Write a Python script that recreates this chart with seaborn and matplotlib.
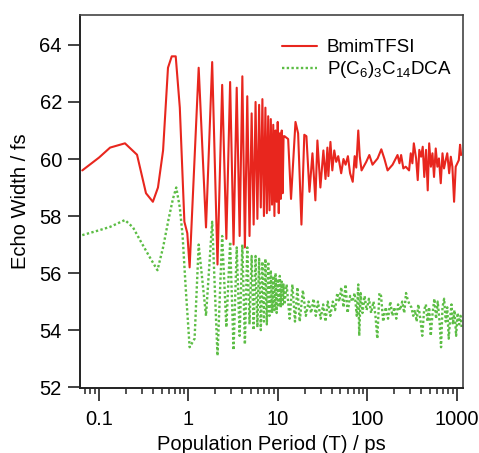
import matplotlib
matplotlib.use("Agg")
import matplotlib.pyplot as plt
import seaborn as sns
import pandas as pd

# ---------------- data ----------------
# BmimTFSI (red)
red_time_early = [0.065, 0.10, 0.133, 0.195, 0.266, 0.335, 0.40, 0.456, 0.52, 0.59,
                  0.65, 0.72, 0.80, 0.90, 0.97, 1.03]
red_width_early = [59.6, 60.05, 60.4, 60.55, 60.15, 58.8, 58.5, 59.0, 60.3, 63.2,
                   63.6, 63.6, 61.8, 57.8, 57.4, 56.2]

mid_time = [1.30, 1.57, 1.84, 2.11, 2.38, 2.65, 2.92, 3.19, 3.46, 3.73,
            4.00, 4.27, 4.54, 4.81, 5.08, 5.35, 5.62, 5.89, 6.16, 6.43,
            6.70, 6.97, 7.24, 7.51, 7.78, 8.05, 8.32, 8.59, 8.86, 9.13,
            9.40, 9.67, 9.94, 10.21, 10.48, 10.75, 11.02, 11.29, 11.56, 11.83]
red_width_mid = [63.2, 57.6, 63.4, 56.3, 62.6, 57.2, 62.7, 57.0, 62.5, 57.3,
                 62.9, 56.9, 62.2, 57.3, 61.6, 57.7, 62.0, 57.9, 61.9, 58.3,
                 62.1, 58.0, 61.8, 58.1, 61.5, 58.2, 61.4, 58.4, 61.2, 58.0,
                 61.0, 58.5, 61.3, 58.1, 60.9, 58.6, 61.0, 58.8, 60.8, 60.8]

red_time_late = [13.0, 14.0, 15.7, 16.8, 18.3, 19.7, 20.8, 22.5, 24.3, 26.2,
                 27.6, 29.8, 32.2, 34.0, 35.7, 36.6, 38.6, 40.5, 42.6, 44.8,
                 47.2, 50.9, 54.0, 57.0, 60.5, 64.0, 68.5, 72.0, 75.0, 79.0,
                 82.0, 86.0, 97.0, 105.0, 114.0, 130.0, 143.0, 155.0, 168.0, 191.0,
                 217.0, 228.0, 238.0, 252.0, 268.0, 292.0, 305.0, 318.0, 330.0, 350.0,
                 365.0, 380.0, 398.0, 415.0, 432.0, 452.0, 472.0, 490.0, 512.0, 533.0,
                 555.0, 580.0, 605.0, 630.0, 660.0, 690.0, 718.0, 750.0, 780.0, 820.0,
                 855.0, 890.0, 930.0, 970.0, 1050.0, 1085.0, 1115.0]
red_width_late = [60.7, 58.6, 61.3, 60.9, 57.7, 60.85, 60.8, 58.85, 60.2, 58.55,
                  60.65, 59.0, 60.3, 59.3, 60.4, 59.4, 60.6, 59.6, 60.3, 59.9,
                  60.1, 59.5, 60.0, 59.8, 60.1, 59.5, 59.2, 60.1, 59.7, 61.0,
                  60.1, 59.6, 59.9, 60.14, 59.8, 60.02, 60.34, 60.0, 59.6, 59.8,
                  60.14, 59.85, 60.14, 59.67, 59.73, 59.6, 60.2, 59.85, 60.55, 60.02,
                  59.26, 60.32, 60.08, 60.43, 59.37, 60.32, 58.9, 60.55, 59.73, 60.2,
                  59.37, 60.37, 59.73, 60.02, 59.15, 60.2, 59.67, 59.96, 60.2, 59.5,
                  60.08, 59.73, 58.5, 59.73, 59.96, 60.5, 60.14]

# P(C6)3C14DCA (green)
green_time_early = [0.065, 0.10, 0.133, 0.195, 0.24, 0.30, 0.37, 0.45, 0.52, 0.60,
                    0.67, 0.73, 0.80, 0.86, 0.93, 1.03, 1.17]
green_width_early = [57.33, 57.5, 57.62, 57.86, 57.6, 57.05, 56.55, 56.1, 56.9, 57.9,
                     58.6, 59.0, 58.3, 57.3, 55.5, 53.4, 53.7]

green_width_mid = [57.0, 54.5, 57.8, 53.1, 57.3, 54.1, 57.1, 53.3, 56.9, 53.8,
                   57.0, 53.5, 56.9, 54.2, 56.6, 54.0, 56.6, 54.1, 56.5, 54.0,
                   56.4, 54.3, 56.5, 54.2, 56.4, 54.5, 56.1, 54.6, 55.9, 54.7,
                   56.0, 54.6, 55.8, 54.8, 55.9, 54.8, 55.7, 54.9, 55.6, 54.9]

green_time_late = [12.5, 13.5, 14.5, 15.5, 16.5, 17.5, 19.0, 20.5, 22.0, 23.5,
                   25.0, 26.5, 28.0, 30.0, 32.0, 34.0, 36.0, 38.5, 41.0, 43.5,
                   46.0, 48.5, 51.0, 54.0, 57.0, 60.0, 64.0, 68.0, 72.0, 76.0,
                   79.0, 81.0, 84.0, 88.0, 93.0, 98.0, 104.0, 110.0, 117.0, 123.0,
                   129.0, 136.0, 142.0, 150.0, 160.0, 170.0, 180.0, 190.0, 200.0, 210.0,
                   220.0, 232.0, 245.0, 258.0, 270.0, 280.0, 295.0, 310.0, 325.0, 340.0,
                   355.0, 370.0, 390.0, 410.0, 430.0, 450.0, 470.0, 490.0, 510.0, 535.0,
                   560.0, 585.0, 610.0, 640.0, 665.0, 690.0, 720.0, 750.0, 780.0, 810.0,
                   840.0, 870.0, 900.0, 940.0, 980.0, 1020.0, 1060.0, 1100.0, 1130.0]
green_width_late = [55.6, 54.4, 55.6, 54.3, 55.5, 54.3, 55.4, 54.5, 55.0, 54.6,
                    55.1, 54.5, 55.0, 54.4, 54.9, 54.3, 55.0, 54.5, 55.0, 54.7,
                    55.3, 55.0, 55.5, 54.8, 55.6, 54.6, 55.2, 55.0, 55.3, 54.5,
                    55.6, 53.8, 55.3, 54.6, 55.2, 54.7, 55.1, 54.6, 55.0, 54.5,
                    53.7, 55.3, 55.2, 54.3, 54.8, 54.4, 55.0, 54.5, 54.8, 54.4,
                    54.9, 54.7, 55.0, 54.6, 55.3, 55.1, 54.9, 54.8, 54.5, 54.7,
                    54.3, 54.9, 54.4, 53.8, 54.7, 54.9, 54.3, 54.8, 53.8, 54.6,
                    55.1, 54.4, 55.0, 54.3, 53.4, 54.8, 55.1, 54.3, 54.8, 53.7,
                    54.4, 54.9, 54.2, 54.7, 53.8, 54.6, 54.2, 54.5, 54.1]

x_ticks = [0.1, 1, 10, 100, 1000]
x_tick_labels = ["0.1", "1", "10", "100", "1000"]
y_ticks = [52, 54, 56, 58, 60, 62, 64]
series_labels = ["BmimTFSI", "P(C$_6$)$_3$C$_{14}$DCA"]

# ---------------- build frames ----------------
red_df = pd.DataFrame({
    "time": red_time_early + mid_time + red_time_late,
    "width": red_width_early + red_width_mid + red_width_late,
})
green_df = pd.DataFrame({
    "time": green_time_early + mid_time + green_time_late,
    "width": green_width_early + green_width_mid + green_width_late,
})

# ---------------- plot ----------------
sns.set_style("ticks")
plt.rcParams["font.family"] = ["Liberation Sans", "DejaVu Sans"]
plt.rcParams["mathtext.fontset"] = "custom"
plt.rcParams["mathtext.rm"] = "Liberation Sans"
plt.rcParams["mathtext.it"] = "Liberation Sans"
plt.rcParams["text.color"] = "black"
plt.rcParams["axes.labelcolor"] = "black"
plt.rcParams["xtick.color"] = "black"
plt.rcParams["ytick.color"] = "black"

fig = plt.figure(figsize=(4.79, 4.53), dpi=100)
ax = fig.add_axes([0.167, 0.1435, 0.7996, 0.8234])

red = "#e8261e"
green = "#5cbd45"

sns.lineplot(data=red_df, x="time", y="width", ax=ax, color=red, lw=1.5,
             sort=False, estimator=None, label=series_labels[0])
sns.lineplot(data=green_df, x="time", y="width", ax=ax, color=green, lw=1.7,
             sort=False, estimator=None, label=series_labels[1],
             linestyle=(0, (1, 1)))

ax.set_xscale("log")
ax.set_xlim(0.0613, 1170)
ax.set_ylim(51.97, 65.05)
ax.set_xticks(x_ticks)
ax.set_xticklabels(x_tick_labels)
ax.set_yticks(y_ticks)

ax.tick_params(axis="both", which="major", direction="out", length=9, width=1.2,
               labelsize=14.5, color="#222222", labelcolor="black")
ax.tick_params(axis="x", which="major", pad=7)
ax.tick_params(axis="y", which="major", pad=4)
ax.tick_params(axis="x", which="minor", direction="out", length=4.5, width=1.1,
               color="#222222")

for side in ["left", "bottom"]:
    ax.spines[side].set_linewidth(1.4)
    ax.spines[side].set_color("#222222")
for side in ["top", "right"]:
    ax.spines[side].set_visible(True)
    ax.spines[side].set_linewidth(1.2)
    ax.spines[side].set_color("#444444")

ax.set_xlabel("Population Period (T) / ps", fontsize=14.5, labelpad=4)
ax.set_ylabel("Echo Width / fs", fontsize=14.5, labelpad=7)

leg = ax.legend(loc="upper left", bbox_to_anchor=(0.527, 0.935), frameon=False,
                fontsize=13.5, handlelength=1.85, handletextpad=0.55,
                labelspacing=0.15, borderpad=0, borderaxespad=0)

fig.savefig("out.png", dpi=100)
